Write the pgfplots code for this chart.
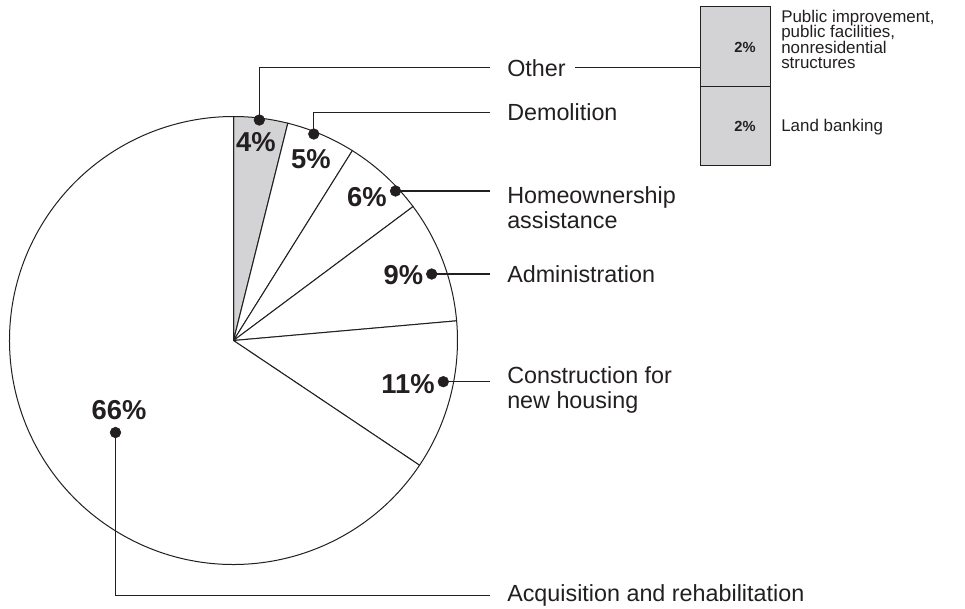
\documentclass[border=0pt]{standalone}
\usepackage{pgfplots}
\pgfplotsset{compat=1.18}
\usepackage{fontspec}
\setmainfont{Liberation Sans}
\definecolor{ink}{HTML}{231F20}
\definecolor{wedgegray}{HTML}{D3D3D5}
\newcommand\lab{\fontsize{17.5}{19}\selectfont}
\newcommand\pct{\fontsize{20.5}{22}\selectfont\bfseries}
\newcommand\smalllab{\fontsize{12.7}{13}\selectfont}
\newcommand\boxpct{\fontsize{11}{11}\selectfont\bfseries}
\begin{document}
\begin{tikzpicture}
% shares (printed labels: 4, 5, 6, 9, 11, 66 %)
\def\pOther{3.9}\def\pDemo{5.0}\def\pHome{5.9}\def\pAdmin{8.8}\def\pConst{10.8}\def\pAcq{65.6}
\pgfmathsetmacro\aA{90}
\pgfmathsetmacro\aB{\aA-3.6*\pOther}
\pgfmathsetmacro\aC{\aB-3.6*\pDemo}
\pgfmathsetmacro\aD{\aC-3.6*\pHome}
\pgfmathsetmacro\aE{\aD-3.6*\pAdmin}
\pgfmathsetmacro\aF{\aE-3.6*\pConst}
\pgfmathsetmacro\aG{\aF-3.6*\pAcq}
\def\R{168pt}
\begin{axis}[x=0.75pt, y=0.75pt, xmin=0, xmax=965, ymin=0, ymax=608,
  y dir=reverse, hide axis, clip=false, scale only axis]
\path (axis cs:0,0) rectangle (axis cs:965,608);
% pie wedges
\filldraw[fill=wedgegray, draw=ink, line width=0.75pt] (axis cs:233.5,340.5) -- ++(\aA:\R) arc[start angle=\aA, end angle=\aB, radius=\R] -- cycle;
\filldraw[fill=white, draw=ink, line width=0.75pt] (axis cs:233.5,340.5) -- ++(\aB:\R) arc[start angle=\aB, end angle=\aC, radius=\R] -- cycle;
\filldraw[fill=white, draw=ink, line width=0.75pt] (axis cs:233.5,340.5) -- ++(\aC:\R) arc[start angle=\aC, end angle=\aD, radius=\R] -- cycle;
\filldraw[fill=white, draw=ink, line width=0.75pt] (axis cs:233.5,340.5) -- ++(\aD:\R) arc[start angle=\aD, end angle=\aE, radius=\R] -- cycle;
\filldraw[fill=white, draw=ink, line width=0.75pt] (axis cs:233.5,340.5) -- ++(\aE:\R) arc[start angle=\aE, end angle=\aF, radius=\R] -- cycle;
\filldraw[fill=white, draw=ink, line width=0.75pt] (axis cs:233.5,340.5) -- ++(\aF:\R) arc[start angle=\aF, end angle=\aG, radius=\R] -- cycle;
% breakdown box of "Other"
\filldraw[fill=wedgegray, draw=ink, line width=0.75pt] (axis cs:700.5,6.5) rectangle (axis cs:770.5,86);
\filldraw[fill=wedgegray, draw=ink, line width=0.75pt] (axis cs:700.5,86) rectangle (axis cs:770.5,165);
% leader lines
\addplot[ink, line width=0.8pt] coordinates {(259.3,120) (259.3,67.5) (490,67.5)};
\addplot[ink, line width=0.8pt] coordinates {(575,67.5) (700.5,67.5)};
\addplot[ink, line width=0.8pt] coordinates {(313.8,134) (313.8,112.3) (490,112.3)};
\addplot[ink, line width=0.8pt] coordinates {(395.5,191) (490,191)};
\addplot[ink, line width=0.8pt] coordinates {(431.7,274) (490,274)};
\addplot[ink, line width=0.8pt] coordinates {(443.3,381.7) (490,381.7)};
\addplot[ink, line width=0.8pt] coordinates {(115.5,432.5) (115.5,595.5) (490,595.5)};
% dots
\addplot[only marks, mark=*, mark size=4pt, mark options={fill=ink, draw=ink}] coordinates {
(259.3,120) (313.8,134) (395.5,191) (431.7,274) (443.3,381.7) (115.5,432.5)};
% percentage labels
\node[anchor=base, text=ink, font=\pct] at (axis cs:256,151.5) {4\%};
\node[anchor=base, text=ink, font=\pct] at (axis cs:311,168) {5\%};
\node[anchor=base, text=ink, font=\pct] at (axis cs:367,206.5) {6\%};
\node[anchor=base, text=ink, font=\pct] at (axis cs:403.5,284) {9\%};
\node[anchor=base, text=ink, font=\pct] at (axis cs:408,393) {11\%};
\node[anchor=base, text=ink, font=\pct] at (axis cs:119,419.3) {66\%};
% category labels
\node[anchor=base west, inner sep=0pt, text=ink, font=\lab] at (axis cs:507,76) {Other};
\node[anchor=base west, inner sep=0pt, text=ink, font=\lab] at (axis cs:507,120) {Demolition};
\node[anchor=base west, inner sep=0pt, text=ink, font=\lab] at (axis cs:507,203) {Homeownership};
\node[anchor=base west, inner sep=0pt, text=ink, font=\lab] at (axis cs:507,228) {assistance};
\node[anchor=base west, inner sep=0pt, text=ink, font=\lab] at (axis cs:507,282.3) {Administration};
\node[anchor=base west, inner sep=0pt, text=ink, font=\lab] at (axis cs:507,383) {Construction for};
\node[anchor=base west, inner sep=0pt, text=ink, font=\lab] at (axis cs:507,408) {new housing};
\node[anchor=base west, inner sep=0pt, text=ink, font=\lab] at (axis cs:507,601.7) {Acquisition and rehabilitation};
% box labels
\node[anchor=base, text=ink, font=\boxpct] at (axis cs:745,52) {2\%};
\node[anchor=base, text=ink, font=\boxpct] at (axis cs:745,131) {2\%};
\node[anchor=base west, inner sep=0pt, text=ink, font=\smalllab] at (axis cs:781,22) {Public improvement,};
\node[anchor=base west, inner sep=0pt, text=ink, font=\smalllab] at (axis cs:781,37.5) {public facilities,};
\node[anchor=base west, inner sep=0pt, text=ink, font=\smalllab] at (axis cs:781,53) {nonresidential};
\node[anchor=base west, inner sep=0pt, text=ink, font=\smalllab] at (axis cs:781,68.5) {structures};
\node[anchor=base west, inner sep=0pt, text=ink, font=\smalllab] at (axis cs:781,131) {Land banking};
\end{axis}
\pgfresetboundingbox
\path (current axis.south west) rectangle (current axis.north east);
\end{tikzpicture}
\end{document}
